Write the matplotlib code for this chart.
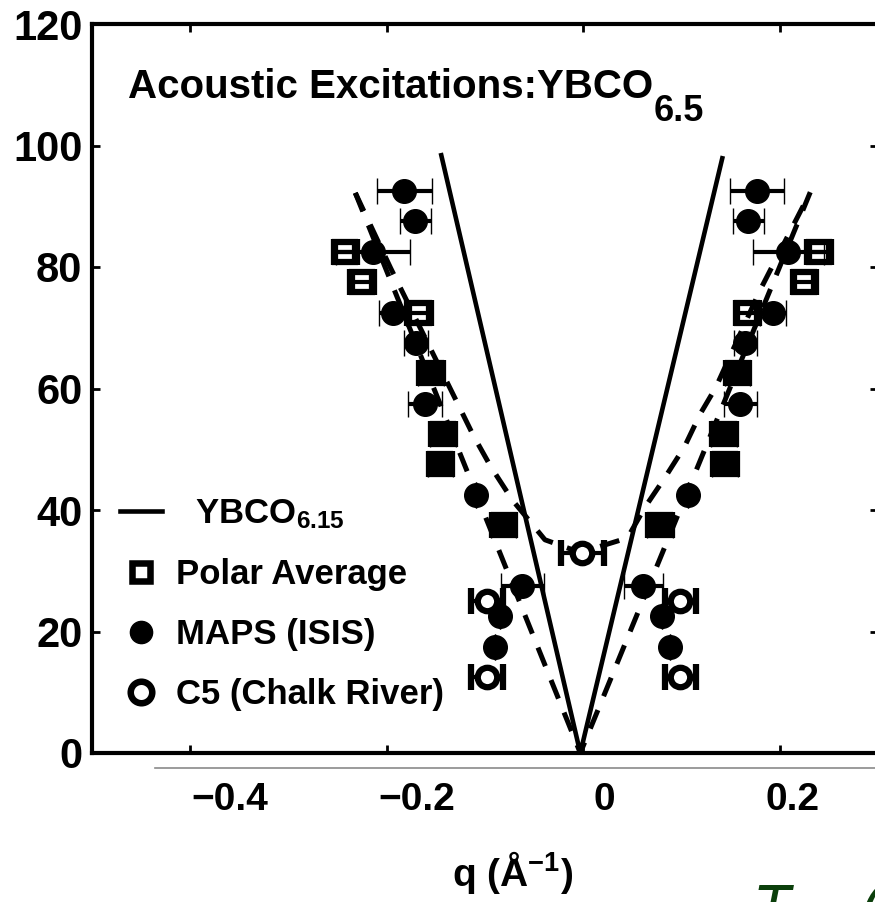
import matplotlib
matplotlib.use("Agg")
import matplotlib.pyplot as plt
from matplotlib.lines import Line2D

plt.rcParams['font.family'] = ['Liberation Sans', 'DejaVu Sans']
plt.rcParams['font.weight'] = 'bold'
plt.rcParams['mathtext.fontset'] = 'custom'
plt.rcParams['mathtext.rm'] = 'Liberation Sans:bold'
plt.rcParams['mathtext.bf'] = 'Liberation Sans:bold'
plt.rcParams['mathtext.default'] = 'bf'

# MAPS (ISIS) - filled circles, q in 1/A, E in meV
maps_q = [-0.182, -0.171, -0.214, -0.194, -0.170, -0.155, -0.161, -0.1425, -0.1455,
          -0.109, -0.081, -0.062, -0.0845, -0.0896,
          0.177, 0.168, 0.2087, 0.193, 0.165, 0.157, 0.160, 0.1435, 0.1445,
          0.107, 0.078, 0.061, 0.080, 0.0885]
maps_e = [92.5, 87.5, 82.5, 72.5, 67.5, 62.5, 57.5, 52.5, 47.5, 42.5, 37.5, 27.5, 22.5, 17.5,
          92.5, 87.5, 82.5, 72.5, 67.5, 62.5, 57.5, 52.5, 47.5, 42.5, 37.5, 27.5, 22.5, 17.5]
maps_dq = [0.028, 0.016, 0.038, 0.014, 0.012, 0.013, 0.017, 0.013, 0.013, 0.0, 0.013, 0.022, 0.0, 0.0,
           0.0275, 0.016, 0.036, 0.013, 0.012, 0.013, 0.017, 0.013, 0.013, 0.0, 0.013, 0.020, 0.0, 0.0]

# Polar Average - open squares
polar_q = [-0.242, -0.225, -0.167, -0.155, -0.1425, -0.1455, -0.081,
           0.240, 0.225, 0.167, 0.157, 0.1435, 0.1445, 0.078]
polar_e = [82.5, 77.5, 72.5, 62.5, 52.5, 47.5, 37.5,
           82.5, 77.5, 72.5, 62.5, 52.5, 47.5, 37.5]
polar_dq = [0.012] * 14

# C5 (Chalk River) - open circles
c5_q = [-0.098, -0.098, -0.001, 0.0987, 0.0987]
c5_e = [25.0, 12.5, 33.0, 25.0, 12.5]
c5_dq = [0.016, 0.016, 0.022, 0.016, 0.016]

# YBCO6.15 dispersion (solid)
ybco615_q = [-0.1445, -0.003, 0.1415]
ybco615_e = [98.4, 0.0, 97.9]

# dashed guides
dash_v_q = [-0.232, -0.003, 0.231]
dash_v_e = [92.2, 0.0, 92.3]
dash_gap_q = [-0.232, -0.196, -0.129, -0.112, -0.094, -0.072, -0.039, -0.003,
              0.045, 0.063, 0.083, 0.103, 0.119, 0.135, 0.180, 0.231]
dash_gap_e = [92.2, 79.8, 57.9, 52.3, 47.1, 41.6, 35.1, 33.0,
              35.4, 40.5, 45.3, 50.4, 55.8, 60.2, 76.2, 92.3]

xtick_vals = [-0.4, -0.2, 0, 0.2]
xtick_labels = ['\u22120.4', '\u22120.2', '0', '0.2']
ytick_vals = [0, 20, 40, 60, 80, 100, 120]

fig = plt.figure(figsize=(8.75, 9.02), dpi=100)
ax = fig.add_axes([92 / 875, 149 / 902, 786 / 875, 729 / 902])

ax.plot(ybco615_q, ybco615_e, color='k', lw=3.3)
ax.plot(dash_v_q, dash_v_e, color='k', lw=3.6, dashes=(4, 3))
ax.plot(dash_gap_q, dash_gap_e, color='k', lw=3.6, dashes=(4, 3))

eb = dict(ecolor='k', elinewidth=3, capsize=9.5, capthick=3, ls='none')
ax.errorbar(polar_q, polar_e, xerr=polar_dq, fmt='s', ms=14, mfc='none', mec='k', mew=4.5, **eb)
ax.errorbar(maps_q, maps_e, xerr=maps_dq, fmt='o', ms=17, mfc='k', mec='k', mew=1, **eb)
ax.errorbar(c5_q, c5_e, xerr=c5_dq, fmt='o', ms=14, mfc='white', mec='k', mew=4.5, **eb)

ax.set_xlim(-0.5, 0.3)
ax.set_ylim(0, 120)
ax.set_xticks(xtick_vals)
ax.set_yticks(ytick_vals)
ax.tick_params(direction='in', length=6, width=2, top=True, right=True,
               labelbottom=False, labelsize=30, pad=7)
for s in ax.spines.values():
    s.set_linewidth(3)

# title
title = ax.text(-0.4634, 107.8, 'Acoustic Excitations:YBCO', fontsize=29, va='baseline', ha='left')
ax.annotate('6.5', xy=(1, 0), xycoords=title, xytext=(0, -11), textcoords='offset points',
            fontsize=26, va='baseline', ha='left')

# legend
handles = [Line2D([], [], color='k', lw=3.3),
           Line2D([], [], ls='none', marker='s', ms=13, mfc='none', mec='k', mew=4.7),
           Line2D([], [], ls='none', marker='o', ms=16, mfc='k', mec='k'),
           Line2D([], [], ls='none', marker='o', ms=15.5, mfc='none', mec='k', mew=4.7)]
labels = ['  YBCO$_{6.15}$', 'Polar Average', 'MAPS (ISIS)', 'C5 (Chalk River)']
ax.legend(handles, labels, loc='center left', bbox_to_anchor=(120 / 875, 1 - 604 / 902),
          bbox_transform=fig.transFigure, frameon=False, fontsize=25, handlelength=1.2,
          handletextpad=0.4, labelspacing=0.78, borderpad=0, borderaxespad=0)

# separate tick-label strip with grey baseline
lax = fig.add_axes([155 / 875, 134 / 902, 720 / 875, 0.0001])
lax.patch.set_visible(False)
lax.set_xlim(-0.4795, 0.2885)
lax.set_yticks([])
for s in ['top', 'left', 'right']:
    lax.spines[s].set_visible(False)
lax.spines['bottom'].set_color('#8a8a8a')
lax.spines['bottom'].set_linewidth(1.2)
lax.set_xticks(xtick_vals)
lax.set_xticklabels(xtick_labels)
lax.tick_params(length=0, labelsize=28, pad=10)

fig.text(513 / 875, 1 - 872 / 902, 'q (\u00c5$^{-1}$)', ha='center', va='center', fontsize=28)

fig.text(753 / 875, -25 / 902, 'T', color='#0b3f0b', fontsize=44, style='italic',
         weight='normal', va='baseline', ha='left')
fig.text(860 / 875, -25 / 902, '(', color='#0b3f0b', fontsize=44, style='italic',
         weight='normal', va='baseline', ha='left')

fig.savefig('out.png', dpi=100)
